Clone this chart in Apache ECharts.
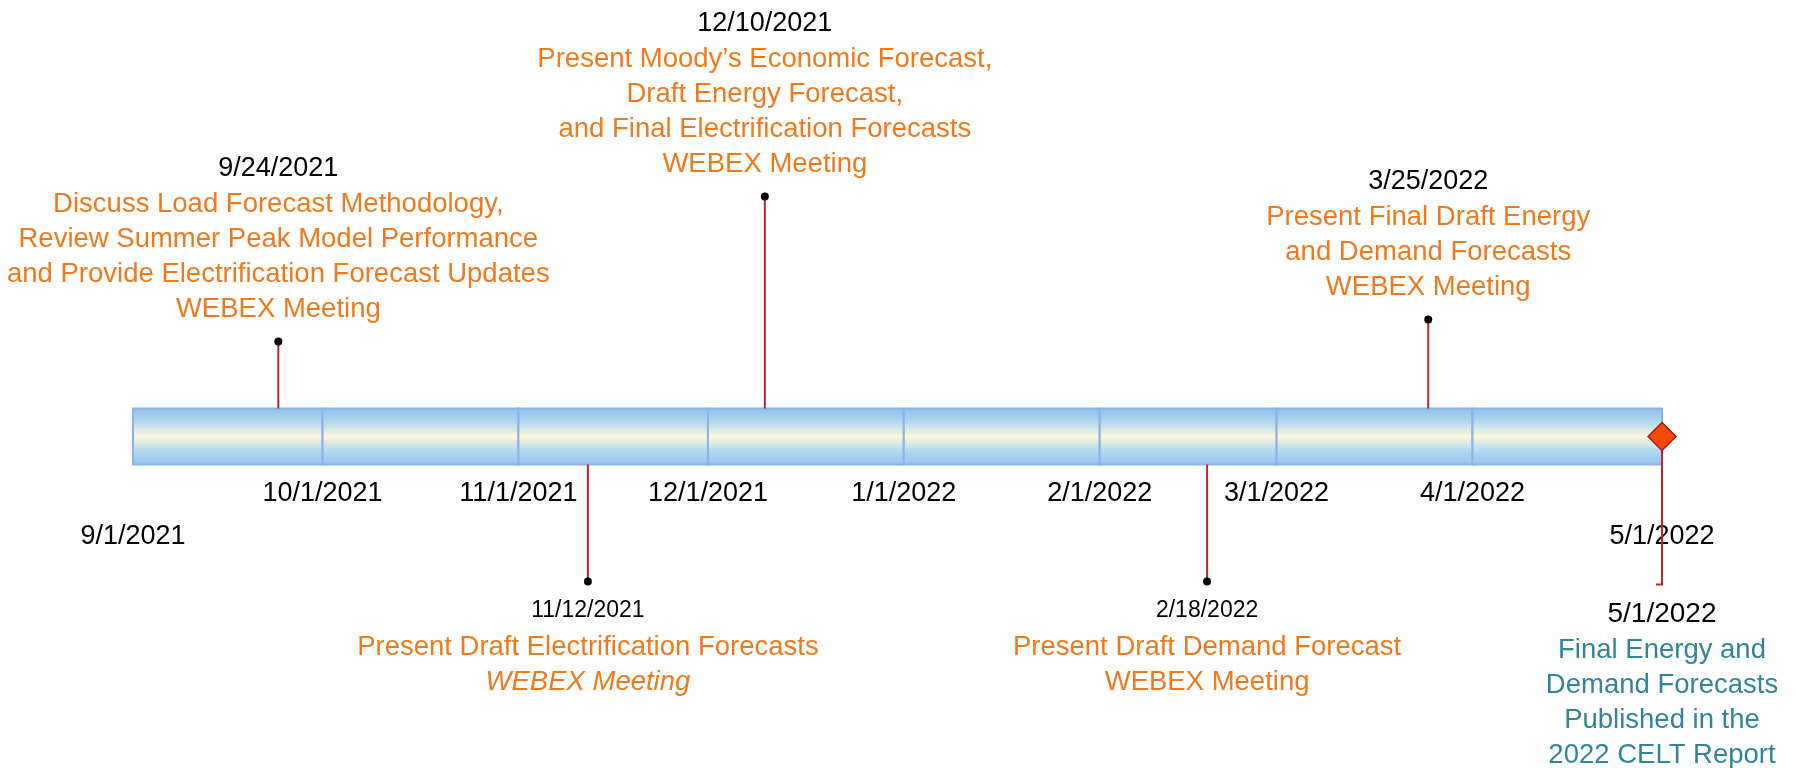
<!DOCTYPE html>
<html>
<head>
<meta charset="utf-8">
<title>Load Forecast Timeline</title>
<script src="https://cdn.jsdelivr.net/npm/echarts@6/dist/echarts.min.js"></script>
<style type="text/css">
  html, body { margin: 0; padding: 0; background: #fff; }
  #main { width: 1796px; height: 768px; }
</style>
</head>
<body>
<div id="main"></div>
<script type="text/javascript">
// month boundaries of the timeline and their labels
var monthTicks = ['2021-09-01', '2021-10-01', '2021-11-01', '2021-12-01', '2022-01-01',
  '2022-02-01', '2022-03-01', '2022-04-01', '2022-05-01'];
var monthLabels = ['9/1/2021', '10/1/2021', '11/1/2021', '12/1/2021', '1/1/2022',
  '2/1/2022', '3/1/2022', '4/1/2022', '5/1/2022'];

// meetings (height = stem length on the y axis, + above the bar, - below)
var eventDates = ['2021-09-24', '2021-11-12', '2021-12-10', '2022-02-18', '2022-03-25'];
var eventDateLabels = ['9/24/2021', '11/12/2021', '12/10/2021', '2/18/2022', '3/25/2022'];
var eventHeights = [95, -145, 240, -145, 117];
var eventNotes = [
  ['Discuss Load Forecast Methodology,', 'Review Summer Peak Model Performance',
    'and Provide Electrification Forecast Updates', 'WEBEX Meeting'],
  ['Present Draft Electrification Forecasts', '{i|WEBEX Meeting}'],
  ['Present Moody\u2019s Economic Forecast,', 'Draft Energy Forecast,',
    'and Final Electrification Forecasts', 'WEBEX Meeting'],
  ['Present Draft Demand Forecast', 'WEBEX Meeting'],
  ['Present Final Draft Energy', 'and Demand Forecasts', 'WEBEX Meeting']
];

// final milestone
var milestoneDate = '2022-05-01';
var milestoneLabel = '5/1/2022';
var milestoneHeight = -148;
var milestoneNotes = ['Final Energy and', 'Demand Forecasts', 'Published in the', '2022 CELT Report'];

var FONT = '"Liberation Sans", Arial, sans-serif';
var ORANGE = '#ef7a1e';
var TEAL = '#31849b';
var STEM = '#c0232b';
var BAR_HALF = 28;

function ts(s) {
  var p = s.split('-');
  return new Date(+p[0], +p[1] - 1, +p[2]).getTime();
}

function wrapNote(line) {
  return line.charAt(0) === '{' ? line : '{o|' + line + '}';
}

function richSet(dateSize, dateLine, noteColor) {
  return {
    d: { fontSize: dateSize, lineHeight: dateLine, fill: '#000', fontFamily: FONT },
    o: { fontSize: 27.5, lineHeight: 35, fill: noteColor, fontFamily: FONT },
    i: { fontSize: 27.5, lineHeight: 35, fill: noteColor, fontFamily: FONT, fontStyle: 'italic' }
  };
}

var segments = [];
for (var i = 0; i < monthTicks.length - 1; i++) {
  segments.push([ts(monthTicks[i]), ts(monthTicks[i + 1])]);
}

var myChart = echarts.init(document.getElementById('main'));

myChart.setOption({
  animation: false,
  grid: { left: 133, right: 134, top: 0, bottom: 0 },
  xAxis: { type: 'time', min: ts(monthTicks[0]), max: ts(monthTicks[monthTicks.length - 1]), show: false },
  yAxis: { type: 'value', min: -331.5, max: 436.5, show: false },
  series: [
    {
      // the timeline bar, one cell per month
      type: 'custom',
      silent: true,
      data: segments,
      renderItem: function (params, api) {
        var a = api.coord([api.value(0), BAR_HALF]);
        var b = api.coord([api.value(1), -BAR_HALF]);
        return {
          type: 'rect',
          shape: { x: a[0], y: a[1], width: b[0] - a[0], height: b[1] - a[1] },
          style: {
            fill: new echarts.graphic.LinearGradient(0, 0, 0, 1, [
              { offset: 0, color: '#8cbcea' },
              { offset: 0.25, color: '#b3d8ef' },
              { offset: 0.5, color: '#fcf8dc' },
              { offset: 0.75, color: '#b3d8ef' },
              { offset: 1, color: '#92c4ec' }
            ]),
            stroke: '#8fb2e6',
            lineWidth: 2
          }
        };
      }
    },
    {
      // month labels under the bar, the two ends dropped a row
      type: 'custom',
      silent: true,
      data: monthTicks.map(function (d, k) { return [ts(d), k]; }),
      renderItem: function (params, api) {
        var k = params.dataIndex;
        var p = api.coord([api.value(0), -BAR_HALF]);
        var drop = (k === 0 || k === monthTicks.length - 1) ? 43 : 0;
        return {
          type: 'text',
          x: p[0],
          y: p[1] + 11.5 + drop,
          style: {
            text: monthLabels[k],
            fontSize: 27,
            fontFamily: FONT,
            lineHeight: 35,
            fill: '#000',
            align: 'center',
            verticalAlign: 'top'
          }
        };
      }
    },
    {
      // meetings
      type: 'custom',
      silent: true,
      data: eventDates.map(function (d, k) { return [ts(d), eventHeights[k]]; }),
      renderItem: function (params, api) {
        var k = params.dataIndex;
        var h = api.value(1);
        var up = h > 0;
        var tip = api.coord([api.value(0), h]);
        var base = api.coord([api.value(0), up ? BAR_HALF : -BAR_HALF]);
        var text = ['{d|' + eventDateLabels[k] + '}'].concat(eventNotes[k].map(wrapNote)).join('\n');
        return {
          type: 'group',
          children: [
            {
              type: 'line',
              shape: { x1: base[0], y1: base[1], x2: tip[0], y2: tip[1] },
              style: { stroke: STEM, lineWidth: 2 }
            },
            {
              type: 'circle',
              shape: { cx: tip[0], cy: tip[1], r: 4 },
              style: { fill: '#000' }
            },
            {
              type: 'text',
              x: tip[0],
              y: up ? tip[1] - 15 : tip[1] + 10,
              style: {
                text: text,
                fontFamily: FONT,
                fontSize: 27,
                align: 'center',
                verticalAlign: up ? 'bottom' : 'top',
                rich: up ? richSet(27, 36, ORANGE) : richSet(23, 38, ORANGE)
              }
            }
          ]
        };
      }
    },
    {
      // final milestone diamond
      type: 'custom',
      silent: true,
      data: [[ts(milestoneDate), milestoneHeight]],
      renderItem: function (params, api) {
        var c = api.coord([api.value(0), 0]);
        var end = api.coord([api.value(0), api.value(1)]);
        var r = 14;
        var text = ['{d|' + milestoneLabel + '}'].concat(milestoneNotes.map(wrapNote)).join('\n');
        return {
          type: 'group',
          children: [
            {
              type: 'polyline',
              shape: { points: [[c[0], c[1] + r], [end[0], end[1]], [end[0] - 6, end[1]]] },
              style: { stroke: STEM, lineWidth: 2, fill: null }
            },
            {
              type: 'polygon',
              shape: { points: [[c[0], c[1] - r], [c[0] + r, c[1]], [c[0], c[1] + r], [c[0] - r, c[1]]] },
              style: { fill: '#f24a00', stroke: '#b0121b', lineWidth: 1.5 }
            },
            {
              type: 'text',
              x: end[0],
              y: end[1] + 11,
              style: {
                text: text,
                fontFamily: FONT,
                fontSize: 27,
                align: 'center',
                verticalAlign: 'top',
                rich: {
                  d: { fontSize: 28, lineHeight: 37, fill: '#000', fontFamily: FONT },
                  o: { fontSize: 27.5, lineHeight: 35, fill: TEAL, fontFamily: FONT }
                }
              }
            }
          ]
        };
      }
    }
  ]
});
</script>
</body>
</html>
